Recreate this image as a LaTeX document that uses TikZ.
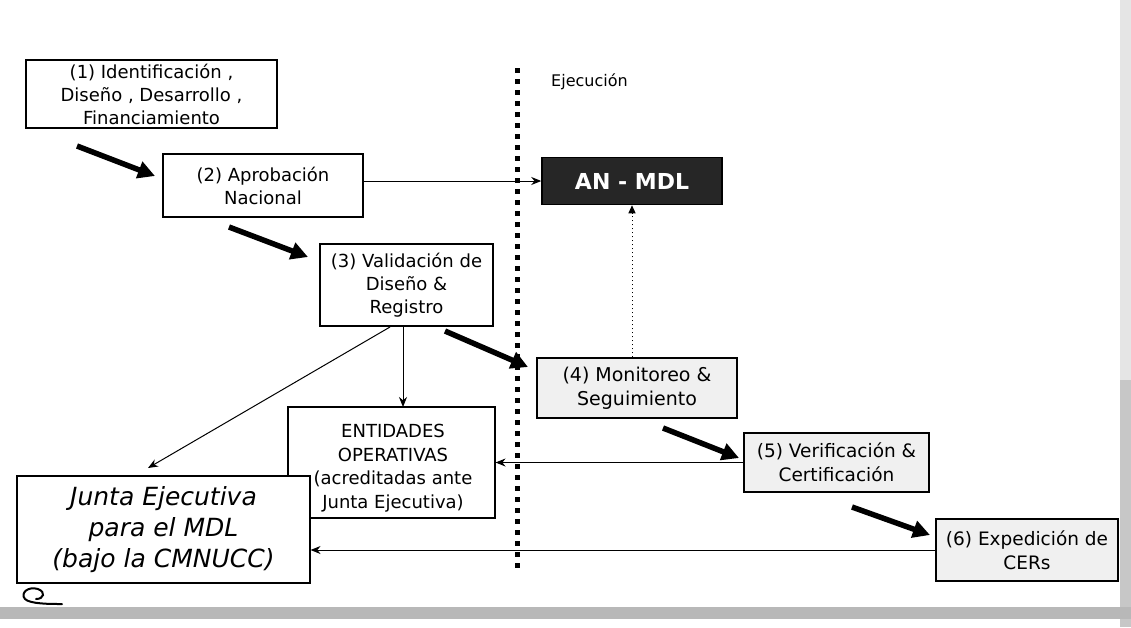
\documentclass[tikz,border=0pt]{standalone}
\usepackage{fontspec}
\setmainfont{DejaVu Sans}
\usetikzlibrary{arrows.meta}
\begin{document}
\begin{tikzpicture}[x=1pt,y=-1pt,
  stage/.style={draw=black,line width=1.1pt,fill=white,align=center,inner sep=2pt,font=\fontsize{18}{23}\selectfont},
  noisy/.style={stage,fill=black!6,font=\fontsize{18.5}{24}\selectfont},
  thin/.style={line width=1pt,-{Stealth[length=10pt,width=8pt]}},
  bold/.style={line width=5.5pt,-{Triangle[length=17pt,width=17pt]}},
  dotted arrow/.style={line width=1pt,dash pattern=on 1.5pt off 2.5pt,-{Triangle[length=8pt,width=7pt]}}]
\useasboundingbox (0,0) rectangle (1131,627);

% page edge shading
\fill[black!10] (1120,0) rectangle (1131,627);
\fill[black!22] (1120,380) rectangle (1131,627);
\fill[black!28] (0,607) rectangle (1131,619);

% stage boxes
\node[stage,minimum width=251pt,minimum height=68pt] (s1) at (151.5,94)
  {(1) Identificación ,\\Diseño , Desarrollo ,\\Financiamiento};
\node[stage,minimum width=200pt,minimum height=63pt] (s2) at (263,185.5)
  {(2) Aprobación\\Nacional};
\node[draw=black,line width=1.5pt,fill=black!85,text=white,font=\bfseries\fontsize{22}{26}\selectfont,
  minimum width=180pt,minimum height=47pt] (an) at (632,181) {AN - MDL};
\node[stage,minimum width=173pt,minimum height=82pt] (s3) at (406.5,285)
  {(3) Validación de\\Diseño \&\\Registro};
\node[noisy,minimum width=200pt,minimum height=60pt,font=\fontsize{19}{24}\selectfont] (s4) at (637,388)
  {(4) Monitoreo \&\\Seguimiento};
\node[noisy,minimum width=185pt,minimum height=59pt] (s5) at (836.5,462.5)
  {(5) Verificación \&\\Certificación};
\node[noisy,minimum width=182pt,minimum height=62pt] (s6) at (1027,550)
  {(6) Expedición de\\CERs};

% operating entities: frame and its text
\node[draw=black,line width=1.1pt,minimum width=207pt,minimum height=111pt] (ent) at (391.5,462.5) {};
\node[align=center,font=\fontsize{18}{23.5}\selectfont,inner sep=0pt] (enttext) at (393,468)
  {ENTIDADES\\OPERATIVAS\\(acreditadas ante\\Junta Ejecutiva)};

% executive board, drawn over the corner of the entities frame
\node[stage,minimum width=293pt,minimum height=107pt,font=\itshape\fontsize{25}{31}\selectfont] (je) at (163.5,529.5)
  {Junta Ejecutiva\\para el MDL\\(bajo la CMNUCC)};

% execution divider
\coordinate (divtop) at (517,68);
\coordinate (divbot) at (517,570);
\draw[line width=5pt,dash pattern=on 5pt off 6pt] (divtop) -- (divbot);
\node[anchor=west,font=\fontsize{16}{18}\selectfont,inner sep=0pt] (ejec) at (551,82) {Ejecución};

% thin connectors
\draw[thin] (s2.east |- an.west) -- (an.west);
\draw[dotted arrow] (an.south |- s4.north) -- (an.south);
\draw[thin] (s3.south -| 403,0) -- (403,407);
\coordinate (s3out) at (390,327);
\coordinate (jein) at (148,468);
\draw[thin] (s3out) -- (jein);
\draw[thin] (s5.west) -- (s5.west -| ent.east);
\draw[thin] (s6.west) -- (s6.west -| je.east);

% bold sequence arrows
\coordinate (b1a) at (77,146);   \coordinate (b1b) at (155,176);
\coordinate (b2a) at (229,227);  \coordinate (b2b) at (308,257);
\coordinate (b3a) at (445,331);  \coordinate (b3b) at (528,367);
\coordinate (b4a) at (663,428);  \coordinate (b4b) at (739,458);
\coordinate (b5a) at (852,507);  \coordinate (b5b) at (930,535);
\draw[bold] (b1a) -- (b1b);
\draw[bold] (b2a) -- (b2b);
\draw[bold] (b3a) -- (b3b);
\draw[bold] (b4a) -- (b4b);
\draw[bold] (b5a) -- (b5b);

% small mark below the board box
\draw[line width=2pt,line cap=round] (62,604) .. controls (50,604) and (30,604) .. (25,599)
  .. controls (20,593) and (28,586) .. (38,589) .. controls (46,592) and (44,599) .. (36,599);
\end{tikzpicture}
\end{document}
